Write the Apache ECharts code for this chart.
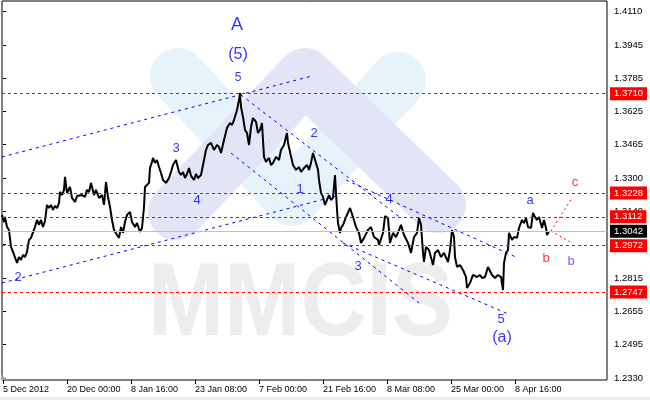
<!DOCTYPE html>
<html><head><meta charset="utf-8">
<script src="https://cdn.jsdelivr.net/npm/echarts@6/dist/echarts.min.js"></script>
<style>html,body{margin:0;padding:0;background:#fff}#c{width:650px;height:400px}</style>
</head><body><div id="c"></div>
<script>
// ---- data ----
const xTickBars = [0, 64, 128, 192, 256, 320, 384, 448, 512];
const xTickLabels = ['5 Dec 2012', '20 Dec 00:00', '8 Jan 16:00', '23 Jan 08:00', '7 Feb 00:00', '21 Feb 16:00', '8 Mar 08:00', '25 Mar 00:00', '8 Apr 16:00'];
const yTickValues = [1.4110, 1.3945, 1.3785, 1.3625, 1.3465, 1.3300, 1.3140, 1.2980, 1.2815, 1.2655, 1.2495, 1.2330];

const priceBars = [-1,1,2,4,6,8,10,12,14,16,18,20,22,24,26,28,30,32,34,36,38,40,42,44,46,48,50,52,54,56,57,59,61,62,64,67,69,72,74,76,79,82,84,86,88,91,93,96,99,101,103,105,107,109,111,114,116,118,120,122,124,127,129,132,134,136,137,139,141,142,144,146,147,149,150,152,154,156,158,160,163,166,168,170,173,176,178,180,182,184,186,188,191,193,195,198,201,203,205,208,211,214,216,218,221,224,227,229,231,234,236,237,238,240,242,244,246,248,250,253,255,257,259,260,261,263,266,268,270,273,276,278,281,284,285,287,290,293,296,298,301,304,306,308,310,312,315,316,318,320,322,324,326,328,330,332,334,335,337,338,340,343,347,350,353,356,358,361,365,368,371,375,376,380,382,385,387,390,393,396,398,401,405,408,411,414,416,418,420,421,423,426,430,432,435,438,441,445,447,449,451,452,454,457,460,463,464,467,470,474,477,479,482,485,489,492,495,498,500,501,503,505,506,509,511,514,516,519,521,523,525,528,530,532,534,536,539,541,543,544,546];
const priceValues = [1.3121,1.3087,1.3111,1.3063,1.3048,1.2966,1.2942,1.2951,1.2888,1.2917,1.2903,1.2927,1.2917,1.2942,1.3000,1.3010,1.3014,1.3063,1.3097,1.3073,1.3097,1.3063,1.3092,1.3170,1.3155,1.3170,1.3146,1.3165,1.3155,1.3179,1.3233,1.3218,1.3243,1.3306,1.3228,1.3257,1.3204,1.3184,1.3213,1.3204,1.3218,1.3209,1.3243,1.3233,1.3277,1.3218,1.3243,1.3204,1.3218,1.3170,1.3281,1.3209,1.3160,1.3097,1.3048,1.3024,1.3010,1.3063,1.3034,1.3087,1.3121,1.3136,1.3087,1.3063,1.3082,1.3073,1.3039,1.3058,1.3160,1.3257,1.3262,1.3277,1.3349,1.3379,1.3398,1.3374,1.3388,1.3354,1.3325,1.3291,1.3277,1.3301,1.3330,1.3364,1.3388,1.3330,1.3315,1.3330,1.3301,1.3320,1.3349,1.3311,1.3291,1.3320,1.3301,1.3315,1.3388,1.3437,1.3461,1.3471,1.3437,1.3461,1.3451,1.3422,1.3485,1.3544,1.3568,1.3558,1.3582,1.3631,1.3680,1.3713,1.3646,1.3597,1.3534,1.3519,1.3461,1.3548,1.3592,1.3573,1.3519,1.3534,1.3568,1.3485,1.3403,1.3379,1.3398,1.3364,1.3374,1.3403,1.3388,1.3437,1.3461,1.3519,1.3471,1.3427,1.3364,1.3340,1.3354,1.3330,1.3349,1.3364,1.3340,1.3374,1.3422,1.3427,1.3340,1.3291,1.3228,1.3209,1.3170,1.3194,1.3218,1.3194,1.3204,1.3315,1.3146,1.3082,1.3034,1.3058,1.3073,1.3111,1.3155,1.3111,1.3063,1.3034,1.2985,1.3010,1.3048,1.3063,1.3014,1.3000,1.2976,1.3034,1.3116,1.3106,1.2985,1.3034,1.3014,1.3048,1.3073,1.3024,1.2985,1.2937,1.3014,1.3034,1.3106,1.3073,1.2937,1.2893,1.2966,1.2951,1.2878,1.2937,1.2951,1.2917,1.2937,1.2893,1.2951,1.3048,1.3014,1.2917,1.2869,1.2878,1.2854,1.2820,1.2767,1.2791,1.2830,1.2820,1.2830,1.2815,1.2820,1.2869,1.2830,1.2815,1.2830,1.2820,1.2757,1.2888,1.2937,1.2951,1.3034,1.3000,1.3014,1.3010,1.3058,1.3097,1.3082,1.3106,1.3063,1.3058,1.3131,1.3111,1.3097,1.3111,1.3058,1.3097,1.3058,1.3024,1.3042];

const levelValues = [1.3710, 1.3228, 1.3112, 1.2972, 1.2747];
const currentPrice = 1.3042;

// channel lines: [startBar, startPrice, endBar, endPrice]
const channelLines = [
  [-1, 1.3403, 309, 1.3796],
  [-1, 1.2791, 333, 1.3213],
  [238, 1.3704, 398, 1.3106],
  [343, 1.3291, 515, 1.2912],
  [228, 1.3422, 416, 1.2694],
  [340, 1.2985, 507, 1.2637]
];
// projected path (red dotted)
const projectionLines = [
  [548, 1.3043, 569, 1.3204],
  [548, 1.3043, 569, 1.2985]
];

const waveText  = ['A', '(5)', '5', '3', '4', '2', '2', '1', '4', '3', '5', '(a)', 'a', 'b', 'b', 'c'];
const waveBar   = [234, 235, 235, 173, 194, 15, 311, 297, 386, 355, 498, 499, 527, 543, 568, 572];
const wavePrice = [1.4044, 1.3898, 1.3786, 1.3446, 1.3194, 1.2820, 1.3519, 1.3247, 1.3199, 1.2869, 1.2612, 1.2524, 1.3194, 1.2912, 1.2898, 1.3277];

// ---- styling ----
const waveSize  = [18, 16, 12, 13, 13, 13, 13, 13, 13, 13, 13, 16, 13, 13, 13, 13];
const waveColor = ['#0000ff', '#0000ff', '#0000ff', '#0000ff', '#0000ff', '#0000ff', '#0000ff', '#0000ff', '#0000ff', '#0000ff', '#0000ff', '#0000ff', '#0000ff', '#ff0000', '#5a3cff', '#ff0000'];
const FONT = 'Liberation Sans';

const chart = echarts.init(document.getElementById('c'));
const series = [];

channelLines.forEach(l => series.push({
  type: 'line', data: [[l[0], l[1]], [l[2], l[3]]], symbol: 'none', silent: true, z: 3,
  lineStyle: { color: '#0000ff', width: 1, type: [3, 4] }
}));
projectionLines.forEach(l => series.push({
  type: 'line', data: [[l[0], l[1]], [l[2], l[3]]], symbol: 'none', silent: true, z: 3,
  lineStyle: { color: '#ff0000', width: 1, type: [2, 3] }
}));

const tagLabel = (txt, bg) => ({ show: true, position: 'end', distance: 3, formatter: txt, color: '#fff',
  backgroundColor: bg, padding: [2, 4, 1, 4], fontSize: 9.5, fontFamily: FONT });

series.push({
  type: 'line', data: [], silent: true, color: '#ff0000',
  markLine: {
    silent: true, symbol: ['none', 'none'], animation: false, precision: 4,
    lineStyle: { color: '#ff0000', width: 1, type: [3, 3] },
    data: levelValues.map(v => ({ yAxis: v, label: tagLabel(v.toFixed(4), '#ff0000') }))
  }
});
series.push({
  type: 'line', data: [], silent: true, color: '#c0c0c0',
  markLine: {
    silent: true, symbol: ['none', 'none'], animation: false, precision: 4,
    lineStyle: { color: '#c0c0c0', width: 1, type: 'solid' },
    data: [{ yAxis: currentPrice, label: tagLabel(currentPrice.toFixed(4), '#000') }]
  }
});

series.push({
  type: 'line', data: priceBars.map((b, i) => [b, priceValues[i]]), symbol: 'none', silent: true, z: 4,
  lineStyle: { color: '#000', width: 2 }
});

series.push({
  type: 'scatter', symbolSize: 0, silent: true, z: 5,
  data: waveText.map((t, i) => ({
    value: [waveBar[i], wavePrice[i]], name: t,
    label: { show: true, position: 'inside', formatter: t, fontSize: waveSize[i], color: waveColor[i], fontFamily: FONT }
  }))
});

chart.setOption({
  animation: false,
  backgroundColor: '#fff',
  grid: { left: 0, right: 43, top: 1, bottom: 20, show: true, borderColor: '#000', borderWidth: 1 },
  xAxis: {
    type: 'value', min: -1, max: 604,
    axisLine: { show: false }, splitLine: { show: false },
    axisTick: { show: true, customValues: xTickBars, length: 4, lineStyle: { color: '#000' } },
    axisLabel: { customValues: xTickBars, align: 'left', margin: 5, fontSize: 9, color: '#000',
      fontFamily: FONT, formatter: v => xTickLabels[xTickBars.indexOf(v)] || '' }
  },
  yAxis: {
    type: 'value', position: 'right', min: 1.2320, max: 1.4160,
    axisLine: { show: false }, splitLine: { show: false },
    axisTick: { show: true, customValues: yTickValues, length: 3, lineStyle: { color: '#000' } },
    axisLabel: { customValues: yTickValues, margin: 7, fontSize: 9.5, color: '#000',
      fontFamily: FONT, formatter: v => v.toFixed(4) }
  },
  graphic: [
    { type: 'polyline', z: -10, silent: true, shape: { points: [[178, 76], [292, 198], [398, 80]] },
      style: { stroke: '#e7f3fa', lineWidth: 56, lineCap: 'round', lineJoin: 'round', fill: null } },
    { type: 'polyline', z: -9, silent: true, shape: { points: [[176, 212], [305, 76], [438, 205]] },
      style: { stroke: '#e1e5f5', lineWidth: 56, lineCap: 'round', lineJoin: 'round', fill: null } },
    { type: 'text', z: -8, silent: true, x: 148, y: 254, scaleX: 0.88,
      style: { text: 'MMCIS', fontSize: 104, fontWeight: 'bold', fontFamily: FONT, fill: '#ededed' } },
    { type: 'polygon', z: 1, silent: true, shape: { points: [[1, 374], [1, 380], [7, 380]] }, style: { fill: '#a0a0a0' } },
    { type: 'rect', z: 1, silent: true, shape: { x: 0, y: 397, width: 650, height: 3 }, style: { fill: '#ececec' } }
  ],
  series: series
});
</script></body></html>
